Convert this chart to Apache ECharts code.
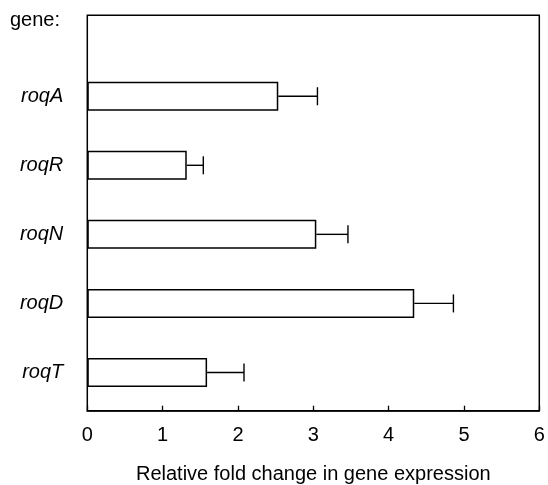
<!DOCTYPE html>
<html><head><meta charset="utf-8">
<script src="https://cdn.jsdelivr.net/npm/echarts@6/dist/echarts.min.js"></script>
<style>html,body{margin:0;padding:0;background:#fff}#c{width:548px;height:485px}</style>
</head><body><div id="c"></div>
<script>
const genes = ['roqA', 'roqR', 'roqN', 'roqD', 'roqT'];
const foldChange = [2.535, 1.32, 3.04, 4.34, 1.59];
const errorUp = [0.52, 0.22, 0.42, 0.52, 0.49];
const xTicks = [0, 1, 2, 3, 4, 5, 6];

const FONT = 'Liberation Sans, Arial, sans-serif';
const chart = echarts.init(document.getElementById('c'), null, {renderer: 'canvas'});
const errData = genes.map((g, i) => [i, foldChange[i], foldChange[i] + errorUp[i]]);

chart.setOption({
  animation: false,
  backgroundColor: '#fff',
  graphic: [{
    type: 'text',
    style: {text: 'gene:', x: 10, y: 20, verticalAlign: 'middle', font: '20px ' + FONT, fill: '#000'}
  }],
  grid: [
    {left: 87.3, right: 8.7, top: 15.3, bottom: 74.3, outerBoundsMode: 'none', containLabel: false,
     show: true, borderColor: '#000', borderWidth: 1.5, backgroundColor: 'transparent'},
    {left: 87.3, right: 8.7, top: 61.7, bottom: 78, outerBoundsMode: 'none', containLabel: false}
  ],
  xAxis: [{
    gridIndex: 0, type: 'value', min: xTicks[0], max: xTicks[xTicks.length - 1], interval: 1,
    axisLine: {show: true, lineStyle: {color: '#000', width: 1.5}},
    axisTick: {show: true, inside: true, length: 5, lineStyle: {color: '#000', width: 1.3}},
    axisLabel: {color: '#000', fontSize: 20, fontFamily: FONT, margin: 15},
    splitLine: {show: false},
    name: 'Relative fold change in gene expression',
    nameLocation: 'middle', nameGap: 54,
    nameTextStyle: {color: '#000', fontSize: 20, fontFamily: FONT}
  }, {
    gridIndex: 1, type: 'value', min: xTicks[0], max: xTicks[xTicks.length - 1],
    show: false
  }],
  yAxis: [{
    gridIndex: 0, type: 'value', show: false, min: 0, max: 1
  }, {
    gridIndex: 1, type: 'category', data: genes, inverse: true,
    axisLine: {show: false}, axisTick: {show: false},
    axisLabel: {color: '#000', fontSize: 20, fontFamily: FONT, fontStyle: 'italic', margin: 24,
                padding: [4, 0, 0, 0]}
  }],
  series: [{
    type: 'bar', xAxisIndex: 1, yAxisIndex: 1, data: foldChange, barWidth: 29,
    itemStyle: {color: '#fff', borderColor: '#000', borderWidth: 1.5}
  }, {
    type: 'custom', xAxisIndex: 1, yAxisIndex: 1, data: errData,
    encode: {x: [1, 2], y: 0},
    renderItem: function (params, api) {
      const c = api.value(0);
      const p0 = api.coord([api.value(1), c]);
      const p1 = api.coord([api.value(2), c]);
      const h = 9;
      const st = {stroke: '#000', lineWidth: 1.4};
      return {type: 'group', children: [
        {type: 'line', shape: {x1: p0[0], y1: p0[1], x2: p1[0], y2: p1[1]}, style: st},
        {type: 'line', shape: {x1: p1[0], y1: p1[1] - h, x2: p1[0], y2: p1[1] + h}, style: st}
      ]};
    }
  }]
});
</script></body></html>
